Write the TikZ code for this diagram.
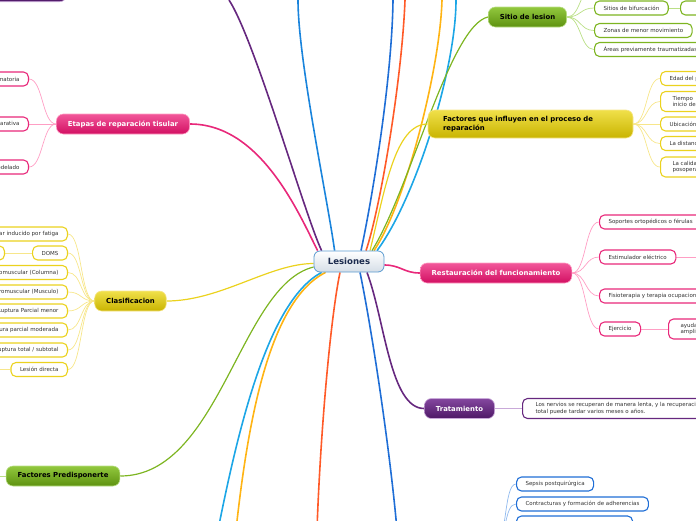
\documentclass[tikz,border=0pt]{standalone}
\usepackage{fontspec}
\setmainfont{DejaVu Sans}
\usepackage{tikz}
\usetikzlibrary{positioning,backgrounds}
\definecolor{mycpink}{HTML}{E8287A}
\definecolor{mycpinkt}{HTML}{F2579A}
\definecolor{mycpinkb}{HTML}{D20F62}
\definecolor{mycpinkl}{HTML}{FF9EC4}
\definecolor{mycpurple}{HTML}{66287F}
\definecolor{mycpurplet}{HTML}{84479F}
\definecolor{mycpurpleb}{HTML}{4E1866}
\definecolor{mycpurplel}{HTML}{C9A9D9}
\definecolor{mycyellow}{HTML}{EBD21E}
\definecolor{mycyellowt}{HTML}{F0E04A}
\definecolor{mycyellowb}{HTML}{C9B400}
\definecolor{mycyellowl}{HTML}{F7E68A}
\definecolor{mycgreen}{HTML}{7DB521}
\definecolor{mycgreent}{HTML}{92C83E}
\definecolor{mycgreenb}{HTML}{5E9210}
\definecolor{mycgreenl}{HTML}{BADF86}
\definecolor{mycblue}{HTML}{1F6ED6}
\definecolor{mycbluel}{HTML}{8FB9EE}
\definecolor{myccyan}{HTML}{1CA6E6}
\definecolor{mycorange}{HTML}{FFB414}
\definecolor{mycred}{HTML}{FF5A28}
\definecolor{mycgrey}{HTML}{333333}
\definecolor{mycnavy}{HTML}{1B2B4E}
\definecolor{myclesb}{HTML}{5B9BD0}
\definecolor{myclesf}{HTML}{D5DEE7}

\begin{document}
\begin{tikzpicture}[x=1pt,y=-1pt,
 br/.style={rounded corners=7pt,minimum height=20pt,inner xsep=11.5pt,inner ysep=0pt,line width=0.6pt,font=\fontsize{6.9}{8.4}\selectfont\bfseries},
 ch/.style={draw,fill=white,line width=1.1pt,rounded corners=5pt,minimum height=14pt,inner xsep=9pt,inner ysep=0pt,align=left,text=mycgrey,font=\fontsize{5.5}{6.6}\selectfont},
 ml/.style={line width=1.6pt},
 cl/.style={line width=0.7pt}
]
\useasboundingbox (0,0) rectangle (696,520);

% centre
\node[draw=myclesb,line width=0.8pt,top color=white,bottom color=myclesf,rounded corners=6pt,minimum width=70pt,minimum height=21pt,text=mycnavy,font=\fontsize{8.6}{10}\selectfont\bfseries] (les) at (349,261.5) {Lesiones};

% main branches
\node[br,draw=mycpinkl,top color=mycpinkt,bottom color=mycpinkb,text=white] (etapas) at (123,124) {Etapas de reparación tisular};
\node[br,draw=mycpurplel,top color=mycpurplet,bottom color=mycpurpleb,minimum width=120pt,anchor=south east] (ptop) at (67,2) {};
\node[br,draw=mycyellowl,top color=mycyellowt,bottom color=mycyellowb,text=black] (clas) at (130.5,301) {Clasificacion};
\node[br,draw=mycgreenl,top color=mycgreent,bottom color=mycgreenb,text=black] (fpred) at (63,476) {Factores Predisponerte};
\node[br,draw=mycgreenl,top color=mycgreent,bottom color=mycgreenb,text=black] (sitio) at (527.5,17) {Sitio de lesion};
\node[br,draw=mycyellowl,top color=mycyellowt,bottom color=mycyellowb,text=black,minimum height=28pt,text width=175pt,inner xsep=15pt,align=left] (fq) at (530.5,124) {Factores que influyen en el proceso de\\reparación};
\node[br,draw=mycpinkl,top color=mycpinkt,bottom color=mycpinkb,text=white] (rest) at (496,273) {Restauración del funcionamiento};
\node[br,draw=mycpurplel,top color=mycpurplet,bottom color=mycpurpleb,text=white] (trat) at (459.5,408.5) {Tratamiento};

% Etapas
\node[ch,draw=mycpink,anchor=east] (e1) at (29,79) {Fase inflamatoria};
\node[ch,draw=mycpink,anchor=east] (e2) at (29,124) {Fase reparativa};
\node[ch,draw=mycpink,anchor=east] (e3) at (29,167) {Fase de remodelado};

% Clasificacion
\node[ch,draw=mycyellow,anchor=east] (c1) at (68,234) {Trastorno muscular inducido por fatiga};
\node[ch,draw=mycyellow,anchor=east] (c2) at (68,253) {DOMS};
\node[ch,draw=mycyellow,anchor=east] (c2a) at (5,253) {Dolor muscular tardío};
\node[ch,draw=mycyellow,anchor=east] (c3) at (68,272.5) {Lesión neuromuscular (Columna)};
\node[ch,draw=mycyellow,anchor=east] (c4) at (68,292) {Lesión neuromuscular (Musculo)};
\node[ch,draw=mycyellow,anchor=east] (c5) at (68,311) {Ruptura Parcial menor};
\node[ch,draw=mycyellow,anchor=east] (c6) at (68,330) {Ruptura parcial moderada};
\node[ch,draw=mycyellow,anchor=east] (c7) at (68,350) {Ruptura total / subtotal};
\node[ch,draw=mycyellow,anchor=east] (c8) at (68,369.5) {Lesión directa};
\coordinate (c8a) at (-10,369.5);
\coordinate (fpa) at (-10,476);

% Sitio de lesion
\coordinate (s0) at (594,-14);
\node[ch,draw=mycgreen,anchor=west] (s1) at (594,8) {Sitios de bifurcación};
\node[ch,draw=mycgreen,anchor=west,minimum width=40pt] (s1a) at (680,8) {};
\node[ch,draw=mycgreen,anchor=west] (s2) at (594,30.5) {Zonas de menor movimiento};
\node[ch,draw=mycgreen,anchor=west] (s3) at (594,49.5) {Áreas previamente traumatizadas};

% Factores que influyen
\node[ch,draw=mycyellow,anchor=west] (f1) at (660,78.5) {Edad del paciente};
\node[ch,draw=mycyellow,anchor=west,minimum height=20pt,inner xsep=12pt] (f2) at (660,101.5) {Tiempo\\inicio del tratamiento};
\node[ch,draw=mycyellow,anchor=west] (f3) at (660,124) {Ubicación de la lesión};
\node[ch,draw=mycyellow,anchor=west] (f4) at (660,143.5) {La distancia del defecto};
\node[ch,draw=mycyellow,anchor=west,minimum height=20pt,inner xsep=12pt] (f5) at (660,167) {La calidad del cuidado\\posoperatorio};

% Restauracion
\node[ch,draw=mycpink,anchor=west] (r1) at (599,222) {Soportes ortopédicos o férulas};
\node[ch,draw=mycpink,anchor=west] (r2) at (599,257) {Estimulador eléctrico};
\coordinate (r2a) at (705,257);
\node[ch,draw=mycpink,anchor=west] (r3) at (599,296) {Fisioterapia y terapia ocupacional};
\node[ch,draw=mycpink,anchor=west] (r4) at (599,329) {Ejercicio};
\node[ch,draw=mycpink,anchor=west,minimum height=20pt,inner xsep=12pt] (r4a) at (668,329) {ayuda a recuperar la\\amplitud de movimiento};

% Tratamiento
\node[ch,draw=mycpurple,anchor=west,minimum height=20pt,inner xsep=13pt] (t1) at (522,408.5) {Los nervios se recuperan de manera lenta, y la recuperación\\total puede tardar varios meses o años.};

% complicaciones
\coordinate (bpar) at (497,540);
\node[ch,draw=mycblue,anchor=west] (b1) at (516,484) {Sepsis postquirúrgica};
\node[ch,draw=mycblue,anchor=west] (b2) at (516,504) {Contracturas y formación de adherencias};
\node[ch,draw=mycblue,anchor=west,minimum width=116pt] (b3) at (516,523) {};

% off-page ends of main branches
\coordinate (up1) at (229,0);
\coordinate (up2) at (298,0);
\coordinate (up3) at (393,0);
\coordinate (up4) at (405,0);
\coordinate (up5) at (442,0);
\coordinate (up6) at (456,0);
\coordinate (dn1) at (397,530);
\coordinate (dn2) at (317,530);
\coordinate (dn3) at (218,530);
\coordinate (dn4) at (236,530);

\begin{scope}[on background layer]
\clip (0,0) rectangle (696,520);
% main branches
\draw[ml,mycpink] ([xshift=4pt]les.north west) .. controls +(-20,-40) and +(70,0) .. (etapas.east);
\draw[ml,mycpurple] ([xshift=8pt]les.north west) .. controls +(-17,-36) and +(26,40) .. (up1);
\draw[ml,mycblue!85!cyan] ([xshift=21pt]les.north west) .. controls +(-7,-51) and +(0,60) .. (up2);
\draw[ml,mycblue] ([xshift=12pt]les.north) .. controls +(11,-51) and +(-1,80) .. (up3);
\draw[ml,mycred] ([xshift=17pt]les.north) .. controls +(14,-41) and +(-3,80) .. (up4);
\draw[ml,mycorange] ([xshift=25pt]les.north) .. controls +(31,-46) and +(-2,70) .. (up5);
\draw[ml,myccyan] ([xshift=28pt]les.north) .. controls +(38,-51) and +(0,70) .. (up6);
\draw[line width=1.2pt,mycgreen] ([xshift=23pt]les.north) .. controls +(38,-61) and +(-38,8) .. (sitio.west);
\draw[line width=1.2pt,mycyellow] ([xshift=21pt]les.north) .. controls +(15,-61) and +(-33,0) .. (fq.west);
\draw[ml,mycpink] ([yshift=-3.5pt]les.east) .. controls +(16,0) and +(-16,0) .. (rest.west);
\draw[ml,mycpurple] ([xshift=18pt]les.south) .. controls +(18,48) and +(-34,0) .. (trat.west);
\draw[ml,mycblue] ([xshift=11pt]les.south) .. controls +(12,58) and +(-7,-80) .. (dn1);
\draw[ml,mycred] ([xshift=-9pt]les.south) .. controls +(-10,48) and +(3,-90) .. (dn2);
\draw[ml,myccyan] ([xshift=8pt]les.south west) .. controls +(-52,28) and +(22,-110) .. (dn3);
\draw[ml,mycorange] ([xshift=12pt]les.south west) .. controls +(-56,28) and +(12,-110) .. (dn4);
\draw[line width=1.2pt,mycgreen] ([yshift=-5.5pt]les.west) .. controls +(-74,18) and +(100,0) .. (fpred.east);
\draw[line width=1.2pt,mycyellow] ([yshift=-2pt]les.west) .. controls +(-44,0) and +(54,0) .. (clas.east);
% child links
\foreach \c in {e1,e2,e3}
  \draw[cl,mycpinkl] (etapas.west) .. controls +(-14,0) and +(14,0) .. (\c.east);
\foreach \c in {c1,c2,c3,c4,c5,c6,c7,c8}
  \draw[cl,mycyellowl] (clas.west) .. controls +(-14,0) and +(14,0) .. (\c.east);
\draw[cl,mycyellowl] (c2.west) -- (c2a.east);
\draw[cl,mycyellowl] (c8.west) -- (c8a);
\draw[cl,mycgreenl] (fpred.west) -- (fpa);
\foreach \c in {s0,s1,s2,s3}
  \draw[cl,mycgreenl] (sitio.east) .. controls +(14,0) and +(-14,0) .. (\c.west);
\draw[cl,mycgreenl] (s1.east) -- (s1a.west);
\foreach \c in {f1,f2,f3,f4,f5}
  \draw[cl,mycyellowl] (fq.east) .. controls +(14,0) and +(-14,0) .. (\c.west);
\foreach \c in {r1,r2,r3,r4}
  \draw[cl,mycpinkl] (rest.east) .. controls +(14,0) and +(-14,0) .. (\c.west);
\draw[cl,mycpinkl] (r2.east) -- (r2a);
\draw[cl,mycpinkl] (r4.east) -- (r4a.west);
\draw[cl,mycpurplel] (trat.east) -- (t1.west);
\foreach \c in {b1,b2,b3}
  \draw[cl,mycbluel] (bpar) .. controls +(10,0) and +(-12,0) .. (\c.west);
\end{scope}
\end{tikzpicture}
\end{document}
